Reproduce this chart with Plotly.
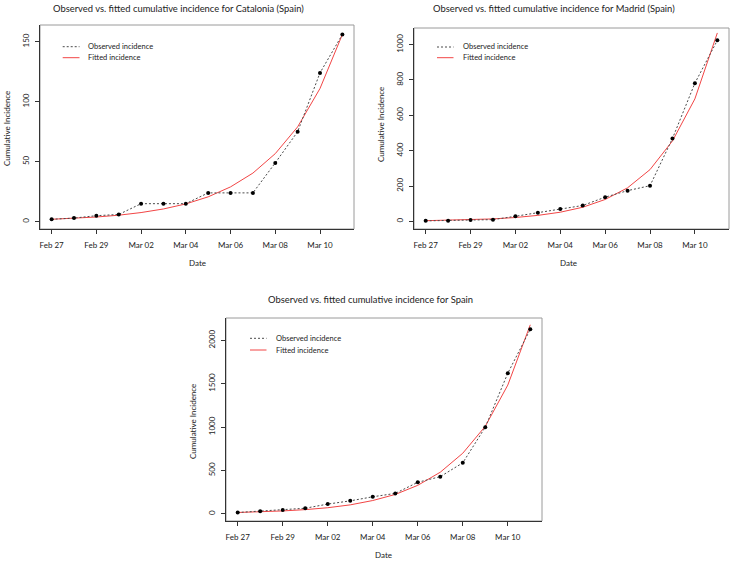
import plotly.graph_objects as go

W, H = 732, 561

dates = ["2020-02-27", "2020-02-28", "2020-02-29", "2020-03-01", "2020-03-02",
         "2020-03-03", "2020-03-04", "2020-03-05", "2020-03-06", "2020-03-07",
         "2020-03-08", "2020-03-09", "2020-03-10", "2020-03-11"]
tick_dates = ["2020-02-27", "2020-02-29", "2020-03-02", "2020-03-04",
              "2020-03-06", "2020-03-08", "2020-03-10"]
tick_labels = ["Feb 27", "Feb 29", "Mar 02", "Mar 04", "Mar 06", "Mar 08", "Mar 10"]

cat_obs = [2, 3, 5, 6, 15, 15, 15, 24, 24, 24, 49, 75, 124, 156]
cat_fit = [2, 2.8, 3.9, 5.4, 7.6, 10.6, 14.8, 20.7, 29, 40.5, 56.7, 79, 111, 156]
mad_obs = [3, 4, 8, 10, 29, 49, 70, 90, 137, 174, 202, 469, 782, 1024]
mad_fit = [4, 6, 9, 14, 22, 34, 52, 80, 124, 190, 293, 455, 693, 1066]
esp_obs = [17, 32, 45, 66, 114, 151, 198, 237, 365, 430, 589, 1000, 1622, 2128]
esp_fit = [17, 24, 35, 50, 72, 105, 155, 225, 330, 481, 700, 1010, 1485, 2180]

cat_yticks = [0, 50, 100, 150]
mad_yticks = [0, 200, 400, 600, 800, 1000]
esp_yticks = [0, 500, 1000, 1500, 2000]

FONT = "Lato"
DARK = "#333333"
RED = "#f24545"
OBS = "#4a4a4a"


def px(x):
    return x / W


def py(y):
    return 1 - y / H


panels = [
    dict(obs=cat_obs, fit=cat_fit, yticks=cat_yticks,
         title="Observed vs. fitted cumulative incidence for Catalonia (Spain)",
         box=(40, 354, 25, 229), yr=[-6.1, 163.9],
         title_xy=(178, 8), date_xy=(197, 263), ylab_xy=(7, 129),
         leg=(62.7, 79.5, 46.7, 57.7, 86)),
    dict(obs=mad_obs, fit=mad_fit, yticks=mad_yticks,
         title="Observed vs. fitted cumulative incidence for Madrid (Spain)",
         box=(414, 729, 28, 229), yr=[-43, 1094],
         title_xy=(554, 8), date_xy=(568, 263), ylab_xy=(381, 125),
         leg=(437, 453.5, 47, 57.7, 461)),
    dict(obs=esp_obs, fit=esp_fit, yticks=esp_yticks,
         title="Observed vs. fitted cumulative incidence for Spain",
         box=(226, 542, 318, 521), yr=[-81, 2258],
         title_xy=(370, 299), date_xy=(383, 555), ylab_xy=(193, 422),
         leg=(250, 266.5, 338.3, 350, 274)),
]

fig = go.Figure()
shapes = []
annotations = []

for i, p in enumerate(panels):
    sfx = "" if i == 0 else str(i + 1)
    xa, ya = "x" + sfx, "y" + sfx
    fig.add_trace(go.Scatter(x=dates, y=p["fit"], mode="lines", xaxis=xa, yaxis=ya,
                             line=dict(color=RED, width=1), showlegend=False,
                             name="Fitted incidence"))
    fig.add_trace(go.Scatter(x=dates, y=p["obs"], mode="lines+markers", xaxis=xa, yaxis=ya,
                             line=dict(color=OBS, width=1, dash="2px,2px"),
                             marker=dict(color="black", size=4),
                             showlegend=False, name="Observed incidence"))
    x0, x1, y0, y1 = p["box"]
    common = dict(showgrid=False, zeroline=False, showline=True, linecolor=DARK,
                  linewidth=1, ticks="outside", ticklen=4, tickcolor=DARK,
                  tickfont=dict(family=FONT, size=8, color="#222"))
    fig.layout["xaxis" + sfx] = dict(
        domain=[px(x0), px(x1)], anchor=ya,
        range=["2020-02-26 11:31", "2020-03-11 12:29"],
        tickvals=tick_dates, ticktext=tick_labels, ticklabelstandoff=4, **common)
    fig.layout["yaxis" + sfx] = dict(
        domain=[py(y1), py(y0)], anchor=xa, range=p["yr"],
        tickvals=p["yticks"], ticktext=[str(v) for v in p["yticks"]],
        tickangle=-90, ticklabelstandoff=3, **common)
    shapes.append(dict(type="rect", xref="paper", yref="paper",
                       x0=px(x0), x1=px(x1), y0=py(y1), y1=py(y0),
                       line=dict(color="#9a9a9a", width=1), layer="below"))
    annotations.append(dict(text=p["title"], x=px(p["title_xy"][0]), y=py(p["title_xy"][1]),
                            xref="paper", yref="paper", showarrow=False,
                            xanchor="center", yanchor="middle",
                            font=dict(family=FONT, size=9.4, color="#222")))
    annotations.append(dict(text="Date", x=px(p["date_xy"][0]), y=py(p["date_xy"][1]),
                            xref="paper", yref="paper", showarrow=False,
                            xanchor="center", yanchor="middle",
                            font=dict(family=FONT, size=8, color="#222")))
    annotations.append(dict(text="Cumulative Incidence", x=px(p["ylab_xy"][0]),
                            y=py(p["ylab_xy"][1]), xref="paper", yref="paper",
                            showarrow=False, textangle=-90,
                            xanchor="center", yanchor="middle",
                            font=dict(family=FONT, size=8, color="#222")))
    lx0, lx1, ly_obs, ly_fit, ltx = p["leg"]
    shapes.append(dict(type="line", xref="paper", yref="paper",
                       x0=px(lx0), x1=px(lx1), y0=py(ly_obs), y1=py(ly_obs),
                       line=dict(color=OBS, width=1, dash="2px,2px")))
    shapes.append(dict(type="line", xref="paper", yref="paper",
                       x0=px(lx0), x1=px(lx1), y0=py(ly_fit), y1=py(ly_fit),
                       line=dict(color=RED, width=1)))
    for label, ly in (("Observed incidence", ly_obs), ("Fitted incidence", ly_fit)):
        annotations.append(dict(text=label, x=px(ltx), y=py(ly), xref="paper", yref="paper",
                                showarrow=False, xanchor="left", yanchor="middle",
                                font=dict(family=FONT, size=7.5, color="#222")))

fig.update_layout(width=W, height=H, margin=dict(l=0, r=0, t=0, b=0),
                  paper_bgcolor="white", plot_bgcolor="white",
                  shapes=shapes, annotations=annotations, showlegend=False)

fig.write_html("out.html", config={"displayModeBar": False},
               post_script="document.body.style.margin='0';document.body.style.overflow='hidden';")
